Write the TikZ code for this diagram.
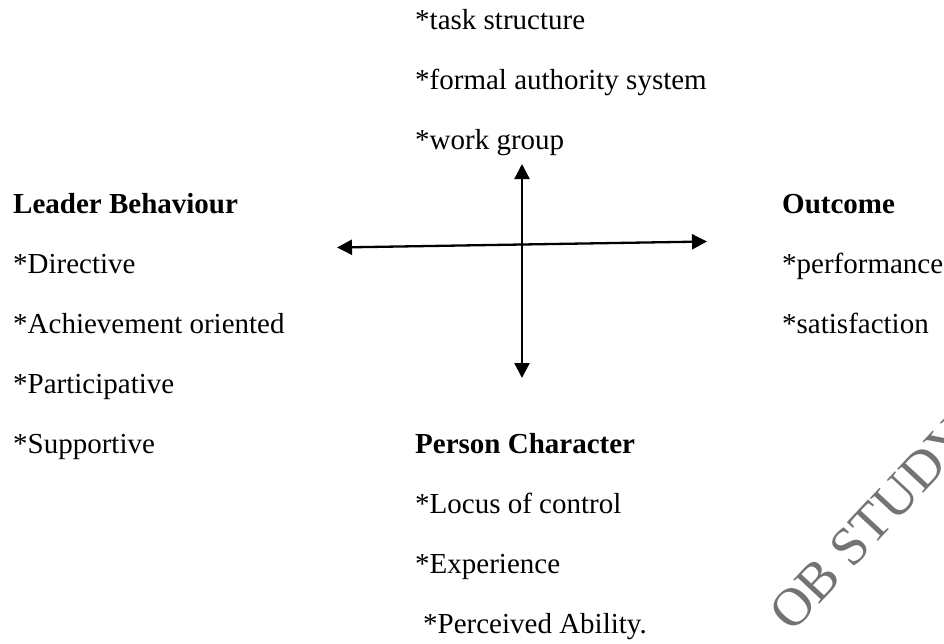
\documentclass[tikz,border=0pt]{standalone}
\usepackage{fontspec}
\setmainfont{Liberation Serif}
\usetikzlibrary{arrows.meta}
\definecolor{wmgray}{RGB}{115,115,115}
\tikzset{
  txt/.style={anchor=base west, inner sep=0pt, font=\fontsize{29}{29}\selectfont},
  headtxt/.style={txt, font=\fontsize{29}{29}\selectfont\bfseries},
  axisline/.style={line width=2.3pt,
    {Triangle[length=15pt,width=15pt]}-{Triangle[length=15pt,width=15pt]}},
  wmtxt/.style={anchor=base west, inner sep=0pt, text=wmgray,
    font=\fontsize{54}{54}\selectfont, rotate=47}
}
\begin{document}
\begin{tikzpicture}[x=1pt,y=-1pt]
\useasboundingbox (0,0) rectangle (944,643);
\fill[white] (0,0) rectangle (944,643);

% situational factors (top)
\node[txt] (task)   at (415,29)  {*task structure};
\node[txt] (formal) at (415,89)  {*formal authority system};
\node[txt] (work)   at (415,149) {*work group};

% leader behaviour (left)
\node[headtxt] (leader) at (13,213) {Leader Behaviour};
\node[txt] (dir)  at (13,273) {*Directive};
\node[txt] (ach)  at (13,333) {*Achievement oriented};
\node[txt] (part) at (13,393) {*Participative};
\node[txt] (supp) at (13,453) {*Supportive};

% outcome (right)
\node[headtxt] (outcome) at (782,213) {Outcome};
\node[txt] (perf) at (782,273) {*performance};
\node[txt] (sat)  at (782,333) {*satisfaction};

% person characteristics (bottom)
\node[headtxt] (person) at (415,453) {Person Character};
\node[txt] (locus) at (415,513) {*Locus of control};
\node[txt] (exper) at (415,573) {*Experience};
\node[txt] (abil)  at (423,633) {*Perceived Ability.};

% the cross of double arrows
\coordinate (up)    at (522,164);
\coordinate (down)  at (522,378);
\coordinate (left)  at (337,247.5);
\coordinate (right) at (707,241.5);
\draw[axisline] (left) -- (right);
\draw[axisline] (down) -- (up);

% watermark
\begin{scope}
\clip (0,0) rectangle (944,643);
\node[wmtxt] (wm) at (792,634) {OB STUDY};
\end{scope}
\end{tikzpicture}
\end{document}
